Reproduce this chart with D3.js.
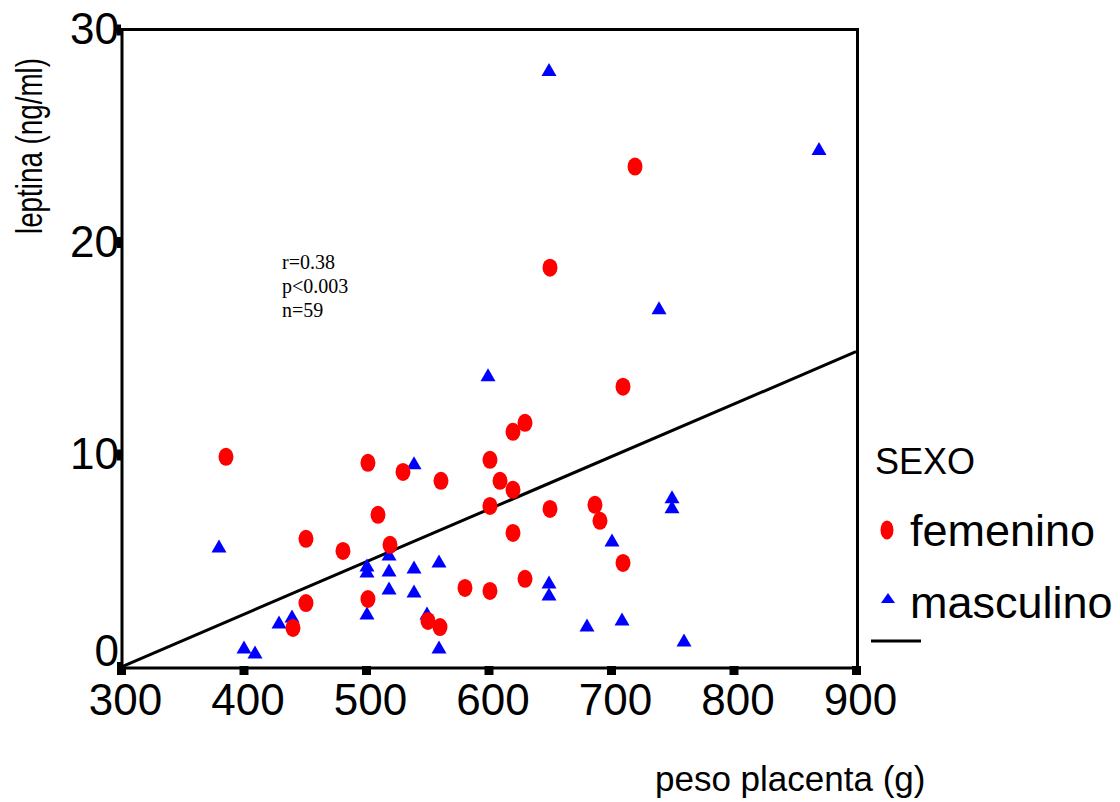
<!DOCTYPE html>
<html>
<head>
<meta charset="utf-8">
<script src="https://cdn.jsdelivr.net/npm/d3@7"></script>
<style>
  body { margin: 0; background: #fff; }
  svg { display: block; }
  text { font-family: "Liberation Sans", Arial, sans-serif; fill: #000; }
</style>
</head>
<body>
<div id="canvas"></div>
<script>
// data: peso placenta (g) vs leptina (ng/ml)
const femeninoPeso = [385.7, 451, 451, 481.2, 501.6, 509.8, 519.6, 501.6, 530.2, 440.4,
  550.6, 560.4, 561.2, 580.8, 601.2, 601.2, 601.2, 609.4, 620, 620,
  629.8, 620, 629.8, 650.2, 650.2, 686.9, 691, 709.8, 709.8, 719.6];
const femeninoLeptina = [9.89, 6.03, 3.01, 5.46, 9.61, 7.16, 5.75, 3.2, 9.18, 1.84,
  2.17, 1.88, 8.76, 3.72, 3.58, 9.75, 7.58, 8.76, 8.34, 11.07,
  11.49, 6.31, 4.15, 7.44, 18.79, 7.63, 6.88, 4.9, 13.19, 23.55];

const masculinoPeso = [380, 400.4, 409.4, 429, 439.6, 500.8, 500.8, 500.8, 518.8, 518.8,
  518.8, 539.2, 539.2, 539.2, 549.8, 559.6, 559.6, 649.4, 649.4, 680.4,
  700.8, 709, 749.8, 749.8, 759.6, 649.4, 869.8, 739.2, 599.6];
const masculinoLeptina = [5.7, 0.94, 0.71, 2.12, 2.4, 4.8, 4.52, 2.54, 5.32, 4.57,
  3.72, 9.61, 4.71, 3.58, 2.54, 4.99, 0.94, 4.0, 3.44, 1.98,
  5.98, 2.26, 8.01, 7.54, 1.27, 28.12, 24.4, 16.91, 13.75];

// recta de regresion
const regIntercept = -7.42;
const regSlope = 0.02473;

const xTicks = [300, 400, 500, 600, 700, 800, 900];
const yTicks = [0, 10, 20, 30];
const statsLines = ["r=0.38", "p<0.003", "n=59"];
const legendItems = ["femenino", "masculino"];

const svg = d3.select('#canvas').append('svg')
  .attr('width', 1120)
  .attr('height', 802);

const x = d3.scaleLinear().domain([300, 900]).range([121, 856]);
const y = d3.scaleLinear().domain([0, 30]).range([667, 29.5]);

// ejes
const xAxis = svg.append('g')
  .attr('transform', 'translate(0,666)')
  .call(d3.axisBottom(x).tickValues(xTicks).tickSize(9).tickFormat(d3.format('d')));
xAxis.select('.domain').remove();
xAxis.selectAll('line').attr('stroke', '#000').attr('stroke-width', 9);
xAxis.selectAll('text')
  .attr('x', 4)
  .attr('y', 49)
  .attr('dy', null)
  .style('font-size', '44px');

const yAxis = svg.append('g')
  .attr('transform', 'translate(121,0)')
  .call(d3.axisLeft(y).tickValues(yTicks).tickSize(4));
yAxis.select('.domain').remove();
yAxis.selectAll('line').attr('stroke', '#000').attr('stroke-width', 11);
yAxis.selectAll('text')
  .attr('x', -2)
  .attr('dy', null)
  .attr('y', function(d){ return d === 0 ? -2 : 14; })
  .style('font-size', '44px');

// marco
const frame = svg.append('g').attr('stroke', '#000').attr('stroke-width', 3);
frame.append('line').attr('x1', 122).attr('x2', 122).attr('y1', 28).attr('y2', 669);
frame.append('line').attr('x1', 121).attr('x2', 859).attr('y1', 29.5).attr('y2', 29.5);
frame.append('line').attr('x1', 857.5).attr('x2', 857.5).attr('y1', 28).attr('y2', 669);
frame.append('line').attr('x1', 121).attr('x2', 859).attr('y1', 668).attr('y2', 668);

// titulos
svg.append('text')
  .attr('transform', 'translate(42,146) rotate(-90)')
  .attr('text-anchor', 'middle')
  .attr('textLength', 176)
  .attr('lengthAdjust', 'spacingAndGlyphs')
  .style('font-size', '36px')
  .text('leptina (ng/ml)');

svg.append('text')
  .attr('x', 655)
  .attr('y', 791)
  .style('font-size', '35px')
  .text('peso placenta (g)');

// recta
svg.append('line')
  .attr('x1', x(300)).attr('y1', y(regIntercept + regSlope * 300))
  .attr('x2', x(900)).attr('y2', y(regIntercept + regSlope * 900))
  .attr('stroke', '#000')
  .attr('stroke-width', 3);

// puntos
function triangle(w, h) {
  return 'M0,' + (-h / 2) + 'L' + (w / 2) + ',' + (h / 2) + 'L' + (-w / 2) + ',' + (h / 2) + 'Z';
}

svg.selectAll('.masculino')
  .data(masculinoPeso)
  .enter()
  .append('path')
  .attr('class', 'masculino')
  .attr('d', triangle(15, 13))
  .attr('transform', function(d, i){ return 'translate(' + x(d) + ',' + y(masculinoLeptina[i]) + ')'; })
  .attr('fill', '#0000ff');

svg.selectAll('.femenino')
  .data(femeninoPeso)
  .enter()
  .append('ellipse')
  .attr('class', 'femenino')
  .attr('cx', function(d){ return x(d); })
  .attr('cy', function(d, i){ return y(femeninoLeptina[i]); })
  .attr('rx', 7.5)
  .attr('ry', 9)
  .attr('fill', '#ff0000');

// estadisticos
svg.selectAll('.stats')
  .data(statsLines)
  .enter()
  .append('text')
  .attr('class', 'stats')
  .attr('x', 282)
  .attr('y', function(d, i){ return 269 + i * 24; })
  .style('font-family', '"Liberation Serif", "Times New Roman", serif')
  .style('font-size', '20px')
  .text(function(d){ return d; });

// leyenda
svg.append('text')
  .attr('x', 875).attr('y', 474)
  .style('font-size', '36px')
  .text('SEXO');

svg.append('ellipse')
  .attr('cx', 887).attr('cy', 530)
  .attr('rx', 6.5).attr('ry', 9.5)
  .attr('fill', '#ff0000');

svg.append('path')
  .attr('d', triangle(14, 10))
  .attr('transform', 'translate(888,598)')
  .attr('fill', '#0000ff');

svg.selectAll('.leg')
  .data(legendItems)
  .enter()
  .append('text')
  .attr('class', 'leg')
  .attr('x', 910)
  .attr('y', function(d, i){ return 546 + i * 72; })
  .style('font-size', '45px')
  .text(function(d){ return d; });

svg.append('line')
  .attr('x1', 871).attr('x2', 921)
  .attr('y1', 641).attr('y2', 641)
  .attr('stroke', '#000')
  .attr('stroke-width', 3);
</script>
</body>
</html>
